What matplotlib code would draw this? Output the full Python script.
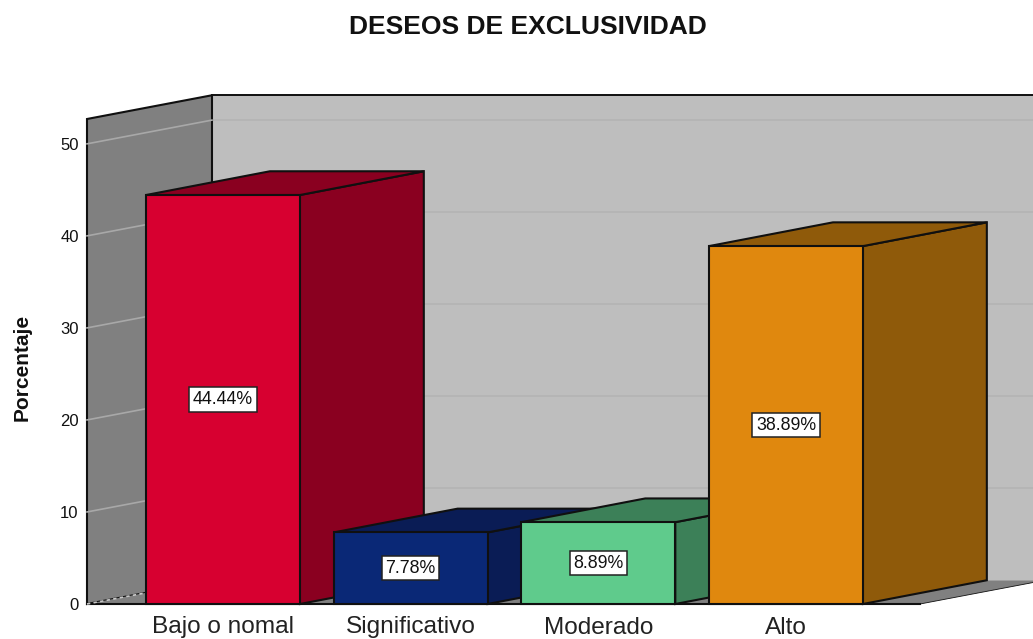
"""
3D style bar chart of the exclusivity levels, drawn with flat polygons
"""

import matplotlib
matplotlib.use('Agg')
import matplotlib.pyplot as plt
import matplotlib.patches as mpatches

categories = ['Bajo o nomal', 'Significativo', 'Moderado', 'Alto']
percentages = [44.44, 7.78, 8.89, 38.89]
y_ticks = [0, 10, 20, 30, 40, 50]

front_colors = ['#D70030', '#0A2876', '#5FCB8C', '#E0880E']
side_colors = ['#8A0020', '#0A1C55', '#3C8058', '#8F5A0A']

BAR_HALF = 0.41     # half bar width, in category units
DEPTH_X = 0.666     # wall depth offset, in category units
BAR_DEPTH_X = 0.66  # bar depth offset, in category units
DEPTH_Y = 2.58      # depth offset, in percent units
Y_MAX = 52.7
X_MIN = -0.7247
X_MAX = 4.316
FLOOR_END = 3.714
EDGE = '#101010'

plt.rcParams['font.family'] = ['Liberation Sans', 'DejaVu Sans']

fig = plt.figure(figsize=(10.33, 6.39), dpi=100)
ax = fig.add_axes([87 / 1033, 35 / 639, 946 / 1033, 485 / 639])
ax.set_xlim(X_MIN, X_MAX)
ax.set_ylim(0, Y_MAX)
ax.patch.set_visible(False)


def poly(points, color, edge='none', lw=0, z=1):
	"""
	Helper function to add a filled polygon that may leave the axes.
	"""
	ax.add_patch(mpatches.Polygon(points, closed=True, facecolor=color, edgecolor=edge,
		linewidth=lw, zorder=z, clip_on=False, joinstyle='miter'))


# the walls and the floor
far_right = FLOOR_END + DEPTH_X
poly([(X_MIN + DEPTH_X, DEPTH_Y), (far_right, DEPTH_Y), (far_right, Y_MAX + DEPTH_Y), (X_MIN + DEPTH_X, Y_MAX + DEPTH_Y)], '#BEBEBE', z=1)
poly([(X_MIN, 0), (X_MIN + DEPTH_X, DEPTH_Y), (X_MIN + DEPTH_X, Y_MAX + DEPTH_Y), (X_MIN, Y_MAX)], '#808080', EDGE, 1.5, z=2)
poly([(X_MIN, 0), (FLOOR_END, 0), (far_right, DEPTH_Y), (X_MIN + DEPTH_X, DEPTH_Y)], '#808080', z=2)

# top edge of the back wall, the front edge of the floor and its right edge
ax.plot((X_MIN + DEPTH_X, far_right), (Y_MAX + DEPTH_Y, Y_MAX + DEPTH_Y), color=EDGE, lw=1.4, zorder=3, clip_on=False)
ax.plot((X_MIN, FLOOR_END), (0, 0), color=EDGE, lw=1.5, zorder=3, clip_on=False)
ax.plot((FLOOR_END, far_right), (0, DEPTH_Y), color=EDGE, lw=0.6, zorder=3, clip_on=False)

# grid lines on both walls
for t in y_ticks:
	if t == 0:
		ax.plot((X_MIN, X_MIN + DEPTH_X), (t, t + DEPTH_Y), color='#C8C8C8', lw=1.2, ls=(0, (2, 2)), zorder=3, clip_on=False)
		continue
	ax.plot((X_MIN, X_MIN + DEPTH_X), (t, t + DEPTH_Y), color='#A8A8A8', lw=1.2, zorder=3, clip_on=False)
	ax.plot((X_MIN + DEPTH_X, far_right), (t + DEPTH_Y, t + DEPTH_Y), color='#B4B4B4', lw=1.2, zorder=1.5, clip_on=False)

# the bars, from left to right so later bars cover the side of earlier ones
for i, value in enumerate(percentages):
	left = i - BAR_HALF
	right = i + BAR_HALF
	z = 4 + i
	poly([(right, 0), (right + BAR_DEPTH_X, DEPTH_Y), (right + BAR_DEPTH_X, value + DEPTH_Y), (right, value)], side_colors[i], EDGE, 1.5, z)
	poly([(left, value), (right, value), (right + BAR_DEPTH_X, value + DEPTH_Y), (left + BAR_DEPTH_X, value + DEPTH_Y)], side_colors[i], EDGE, 1.5, z)
	poly([(left, 0), (right, 0), (right, value), (left, value)], front_colors[i], EDGE, 1.5, z)
	ax.text(i, value / 2, f'{value:.2f}%', ha='center', va='center', fontsize=12.8, color='#111111', zorder=z + 1,
		bbox=dict(boxstyle='square,pad=0.2', facecolor='white', edgecolor='#222222', linewidth=1.1))

for side in ax.spines.values():
	side.set_visible(False)

ax.set_xticks(range(len(categories)))
ax.set_xticklabels(categories, fontsize=17.6, color='#222222')
ax.set_yticks(y_ticks)
ax.set_yticklabels([str(t) for t in y_ticks], fontsize=12, color='#111111')
ax.tick_params(axis='both', length=0)
ax.tick_params(axis='y', pad=6)
ax.tick_params(axis='x', pad=9)

fig.text(22 / 1033, 1 - 367 / 639, 'Porcentaje', rotation=90, ha='center', va='center', fontsize=15, fontweight='bold', color='#111111')
fig.text(528 / 1033, 1 - 27 / 639, 'DESEOS DE EXCLUSIVIDAD', ha='center', va='center', fontsize=19, fontweight='bold', color='#111111')

fig.savefig('out.png', dpi=100)
